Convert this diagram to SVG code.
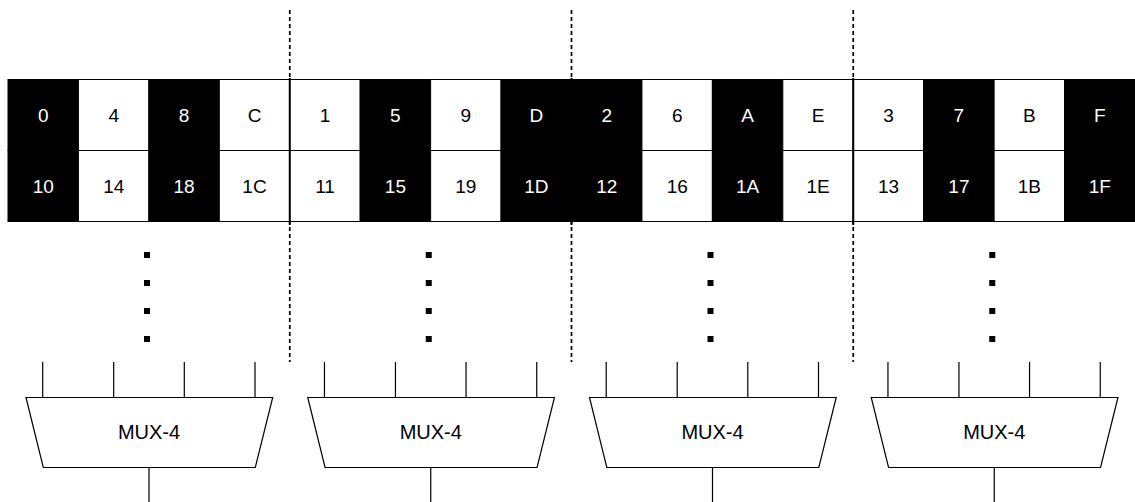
<svg xmlns="http://www.w3.org/2000/svg" width="1135" height="502" viewBox="0 0 1135 502">
  <style>
    text { font-family: "Liberation Sans", Arial, sans-serif; font-size: 19px; text-anchor: middle; dominant-baseline: central; }
    .blk rect { fill: #000; stroke: #000; stroke-width: 1; }
    .blk text { fill: #fff; }
    .wht rect { fill: #fff; stroke: #000; stroke-width: 1; }
    .wht text { fill: #000; }
    .sep { stroke: #000; stroke-width: 1.7; stroke-dasharray: 4 3; fill: none; }
    .bound { stroke: #000; stroke-width: 2; }
    .mux polygon { fill: #fff; stroke: #000; stroke-width: 1.2; }
    .mux text { fill: #000; font-size: 20px; }
    .wire { stroke: #000; stroke-width: 1.2; fill: none; }
    .dot { fill: #000; }
  </style>

  <!-- dashed group separators -->
  <g id="separators">
    <line class="sep" x1="289.75" y1="10" x2="289.75" y2="362"/>
    <line class="sep" x1="571.5" y1="10" x2="571.5" y2="362"/>
    <line class="sep" x1="853.25" y1="10" x2="853.25" y2="362"/>
  </g>

  <!-- memory cells, top row -->
  <g id="cell-0" class="blk"><rect x="8" y="79.5" width="70.44" height="71"/><text x="43.2" y="115">0</text></g>
  <g id="cell-4" class="wht"><rect x="78.44" y="79.5" width="70.44" height="71"/><text x="113.7" y="115">4</text></g>
  <g id="cell-8" class="blk"><rect x="148.88" y="79.5" width="70.44" height="71"/><text x="184.1" y="115">8</text></g>
  <g id="cell-C" class="wht"><rect x="219.31" y="79.5" width="70.44" height="71"/><text x="254.5" y="115">C</text></g>
  <g id="cell-1" class="wht"><rect x="289.75" y="79.5" width="70.44" height="71"/><text x="325" y="115">1</text></g>
  <g id="cell-5" class="blk"><rect x="360.19" y="79.5" width="70.44" height="71"/><text x="395.4" y="115">5</text></g>
  <g id="cell-9" class="wht"><rect x="430.63" y="79.5" width="70.44" height="71"/><text x="465.8" y="115">9</text></g>
  <g id="cell-D" class="blk"><rect x="501.06" y="79.5" width="70.44" height="71"/><text x="536.3" y="115">D</text></g>
  <g id="cell-2" class="blk"><rect x="571.5" y="79.5" width="70.44" height="71"/><text x="606.7" y="115">2</text></g>
  <g id="cell-6" class="wht"><rect x="641.94" y="79.5" width="70.44" height="71"/><text x="677.2" y="115">6</text></g>
  <g id="cell-A" class="blk"><rect x="712.38" y="79.5" width="70.44" height="71"/><text x="747.6" y="115">A</text></g>
  <g id="cell-E" class="wht"><rect x="782.81" y="79.5" width="70.44" height="71"/><text x="818" y="115">E</text></g>
  <g id="cell-3" class="wht"><rect x="853.25" y="79.5" width="70.44" height="71"/><text x="888.5" y="115">3</text></g>
  <g id="cell-7" class="blk"><rect x="923.69" y="79.5" width="70.44" height="71"/><text x="958.9" y="115">7</text></g>
  <g id="cell-B" class="wht"><rect x="994.13" y="79.5" width="70.44" height="71"/><text x="1029.3" y="115">B</text></g>
  <g id="cell-F" class="blk"><rect x="1064.56" y="79.5" width="70.44" height="71"/><text x="1099.8" y="115">F</text></g>

  <!-- memory cells, bottom row -->
  <g id="cell-10" class="blk"><rect x="8" y="150.5" width="70.44" height="71"/><text x="43.2" y="186">10</text></g>
  <g id="cell-14" class="wht"><rect x="78.44" y="150.5" width="70.44" height="71"/><text x="113.7" y="186">14</text></g>
  <g id="cell-18" class="blk"><rect x="148.88" y="150.5" width="70.44" height="71"/><text x="184.1" y="186">18</text></g>
  <g id="cell-1C" class="wht"><rect x="219.31" y="150.5" width="70.44" height="71"/><text x="254.5" y="186">1C</text></g>
  <g id="cell-11" class="wht"><rect x="289.75" y="150.5" width="70.44" height="71"/><text x="325" y="186">11</text></g>
  <g id="cell-15" class="blk"><rect x="360.19" y="150.5" width="70.44" height="71"/><text x="395.4" y="186">15</text></g>
  <g id="cell-19" class="wht"><rect x="430.63" y="150.5" width="70.44" height="71"/><text x="465.8" y="186">19</text></g>
  <g id="cell-1D" class="blk"><rect x="501.06" y="150.5" width="70.44" height="71"/><text x="536.3" y="186">1D</text></g>
  <g id="cell-12" class="blk"><rect x="571.5" y="150.5" width="70.44" height="71"/><text x="606.7" y="186">12</text></g>
  <g id="cell-16" class="wht"><rect x="641.94" y="150.5" width="70.44" height="71"/><text x="677.2" y="186">16</text></g>
  <g id="cell-1A" class="blk"><rect x="712.38" y="150.5" width="70.44" height="71"/><text x="747.6" y="186">1A</text></g>
  <g id="cell-1E" class="wht"><rect x="782.81" y="150.5" width="70.44" height="71"/><text x="818" y="186">1E</text></g>
  <g id="cell-13" class="wht"><rect x="853.25" y="150.5" width="70.44" height="71"/><text x="888.5" y="186">13</text></g>
  <g id="cell-17" class="blk"><rect x="923.69" y="150.5" width="70.44" height="71"/><text x="958.9" y="186">17</text></g>
  <g id="cell-1B" class="wht"><rect x="994.13" y="150.5" width="70.44" height="71"/><text x="1029.3" y="186">1B</text></g>
  <g id="cell-1F" class="blk"><rect x="1064.56" y="150.5" width="70.44" height="71"/><text x="1099.8" y="186">1F</text></g>

  <!-- solid bank boundaries across the cell array -->
  <g id="bank-bounds">
    <line class="bound" x1="289.75" y1="78" x2="289.75" y2="225"/>
    <line class="bound" x1="571.5" y1="78" x2="571.5" y2="225"/>
    <line class="bound" x1="853.25" y1="78" x2="853.25" y2="225"/>
  </g>

  <!-- ellipsis dots -->
  <g id="dots">
    <rect class="dot" x="144" y="252" width="6" height="6"/>
    <rect class="dot" x="144" y="280" width="6" height="6"/>
    <rect class="dot" x="144" y="308" width="6" height="6"/>
    <rect class="dot" x="144" y="336" width="6" height="6"/>
    <rect class="dot" x="425.75" y="252" width="6" height="6"/>
    <rect class="dot" x="425.75" y="280" width="6" height="6"/>
    <rect class="dot" x="425.75" y="308" width="6" height="6"/>
    <rect class="dot" x="425.75" y="336" width="6" height="6"/>
    <rect class="dot" x="707.5" y="252" width="6" height="6"/>
    <rect class="dot" x="707.5" y="280" width="6" height="6"/>
    <rect class="dot" x="707.5" y="308" width="6" height="6"/>
    <rect class="dot" x="707.5" y="336" width="6" height="6"/>
    <rect class="dot" x="989.25" y="252" width="6" height="6"/>
    <rect class="dot" x="989.25" y="280" width="6" height="6"/>
    <rect class="dot" x="989.25" y="308" width="6" height="6"/>
    <rect class="dot" x="989.25" y="336" width="6" height="6"/>
  </g>

  <!-- multiplexer wires: 4 inputs and 1 output per MUX -->
  <g id="connectors">
    <path class="wire" d="M42.7 362V397.5 M113.7 362V397.5 M184.3 362V397.5 M255 362V397.5 M149 467.5V502"/>
    <path class="wire" d="M324.45 362V397.5 M395.45 362V397.5 M466.05 362V397.5 M536.75 362V397.5 M430.75 467.5V502"/>
    <path class="wire" d="M606.2 362V397.5 M677.2 362V397.5 M747.8 362V397.5 M818.5 362V397.5 M712.5 467.5V502"/>
    <path class="wire" d="M887.95 362V397.5 M958.95 362V397.5 M1029.55 362V397.5 M1100.25 362V397.5 M994.25 467.5V502"/>
  </g>

  <!-- multiplexers -->
  <g id="mux-0" class="mux"><polygon points="26,397.5 272.7,397.5 255.3,467.5 43.3,467.5"/><text x="149" y="432">MUX-4</text></g>
  <g id="mux-1" class="mux"><polygon points="307.75,397.5 554.45,397.5 537.05,467.5 325.05,467.5"/><text x="430.75" y="432">MUX-4</text></g>
  <g id="mux-2" class="mux"><polygon points="589.5,397.5 836.2,397.5 818.8,467.5 606.8,467.5"/><text x="712.5" y="432">MUX-4</text></g>
  <g id="mux-3" class="mux"><polygon points="871.25,397.5 1117.95,397.5 1100.55,467.5 888.55,467.5"/><text x="994.25" y="432">MUX-4</text></g>
</svg>
